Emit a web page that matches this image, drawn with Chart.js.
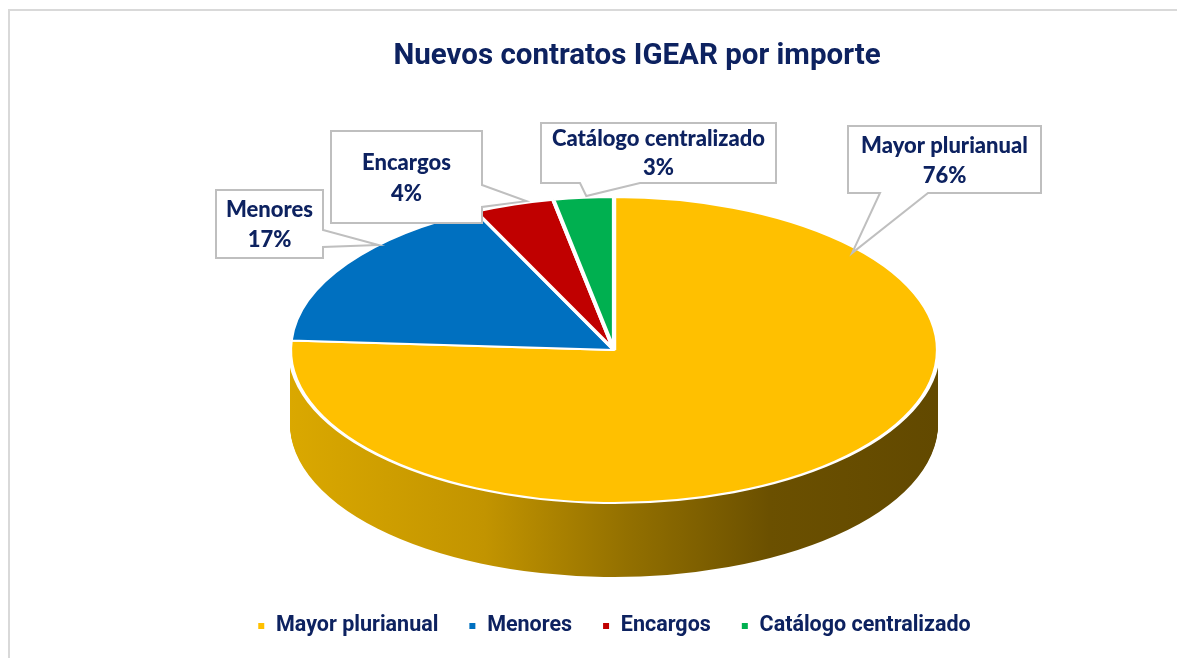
<!DOCTYPE html>
<html lang="es">
<head>
<meta charset="utf-8">
<title>Nuevos contratos IGEAR por importe</title>
<script src="https://cdn.jsdelivr.net/npm/chart.js@4.4.1/dist/chart.umd.min.js"></script>
<style>
  html, body { margin: 0; padding: 0; background: #fff; }
  canvas { display: block; }
</style>
</head>
<body>
<canvas id="pieChart" width="1177" height="658"></canvas>
<script>
const chartTitle = "Nuevos contratos IGEAR por importe";
const categories = ["Mayor plurianual", "Menores", "Encargos", "Catálogo centralizado"];
const shares = [76, 17, 4, 3];
const sliceColors = ["#FFC000", "#0070C0", "#C00000", "#00B050"];

const navy = "#0d2260";
const frameColor = "#D9D9D9";
const ellipseRx = 324;   // half width of the tilted pie on screen
const pieDepth = 74;     // thickness of the 3d side

// callout boxes, same order as categories: [x, y, w, h], tail side, tail base, where the tip lands in the slice
const callouts = [
  { box: [848, 126, 193, 67], side: "bottom", base: [32, 80], at: 0.18, reach: 0.97, lines: [20, 50] },
  { box: [216, 190, 107, 68], side: "right", base: [40, 57], at: 0.65, reach: 1.0, lines: [20, 50] },
  { box: [331, 131, 151, 92], side: "right", base: [54, 76], at: 0.67, reach: 1.01, lines: [32, 63] },
  { box: [541, 123, 235, 60], side: "bottom", base: [39, 99], at: 0.55, reach: 1.01, lines: [16, 45] }
];

const total = shares.reduce((a, b) => a + b, 0);
const pct = (v) => Math.round(v / total * 100) + "%";

const pieGeometry = (chart) => {
  const arcs = chart.getDatasetMeta(0).data;
  const { x, y, outerRadius } = arcs[0];
  return { arcs, x, y, r: outerRadius, sx: ellipseRx / outerRadius };
};

const frameAndTitle = {
  id: "frameAndTitle",
  beforeDraw(chart) {
    const ctx = chart.ctx;
    ctx.save();
    ctx.fillStyle = "#fff";
    ctx.fillRect(0, 0, chart.width, chart.height);
    ctx.strokeStyle = frameColor;
    ctx.lineWidth = 2;
    ctx.strokeRect(9, 10, chart.width + 20, chart.height + 20);
    ctx.restore();
  },
  afterDraw(chart) {
    const ctx = chart.ctx;
    ctx.save();
    ctx.fillStyle = navy;
    ctx.font = "bold 29.5px Roboto";
    ctx.textAlign = "center";
    ctx.textBaseline = "middle";
    ctx.fillText(chartTitle, 637, 57);
    ctx.restore();
  }
};

const pie3d = {
  id: "pie3d",
  beforeDatasetsDraw(chart) {
    const { arcs, x, y, r, sx } = pieGeometry(chart);
    const ctx = chart.ctx;
    ctx.save();
    ctx.translate(x, y);
    ctx.scale(sx, 1);
    ctx.translate(-x, -y);

    const side = ctx.createLinearGradient(x - r, 0, x + r, 0);
    side.addColorStop(0, "#DAA800");
    side.addColorStop(0.3, "#C29400");
    side.addColorStop(0.52, "#937000");
    side.addColorStop(0.74, "#6B5000");
    side.addColorStop(1, "#624900");

    arcs.forEach((arc) => {
      const opts = arc.options;
      arc.options = Object.assign({}, opts, { backgroundColor: side, borderWidth: 0 });
      for (let d = pieDepth; d > 0; d--) {
        ctx.save();
        ctx.translate(0, d);
        arc.draw(ctx);
        ctx.restore();
      }
      arc.options = opts;
    });
  },
  afterDatasetsDraw(chart) {
    chart.ctx.restore();
  }
};

const calloutLabels = {
  id: "calloutLabels",
  afterDraw(chart) {
    const { arcs, x, y, r, sx } = pieGeometry(chart);
    const ctx = chart.ctx;
    ctx.save();
    callouts.forEach((c, i) => {
      const arc = arcs[i];
      const a = arc.startAngle + c.at * (arc.endAngle - arc.startAngle);
      const tip = [x + Math.cos(a) * r * c.reach * sx, y + Math.sin(a) * r * c.reach];
      const [bx, by, bw, bh] = c.box;
      let pts;
      if (c.side === "bottom") {
        pts = [[bx, by], [bx + bw, by], [bx + bw, by + bh], [bx + c.base[1], by + bh], tip, [bx + c.base[0], by + bh], [bx, by + bh]];
      } else {
        pts = [[bx, by], [bx + bw, by], [bx + bw, by + c.base[0]], tip, [bx + bw, by + c.base[1]], [bx + bw, by + bh], [bx, by + bh]];
      }
      ctx.beginPath();
      pts.forEach((p, k) => (k ? ctx.lineTo(p[0], p[1]) : ctx.moveTo(p[0], p[1])));
      ctx.closePath();
      ctx.fillStyle = "#fff";
      ctx.fill();
      ctx.strokeStyle = "#BFBFBF";
      ctx.lineWidth = 2;
      ctx.stroke();

      ctx.fillStyle = navy;
      ctx.font = "900 22px Lato";
      ctx.textAlign = "center";
      ctx.textBaseline = "middle";
      ctx.fillText(categories[i], bx + bw / 2, by + c.lines[0]);
      ctx.fillText(pct(shares[i]), bx + bw / 2, by + c.lines[1]);
    });
    ctx.restore();
  }
};

Chart.defaults.font.family = "Roboto";

new Chart(document.getElementById("pieChart"), {
  type: "pie",
  data: {
    labels: categories,
    datasets: [{
      data: shares,
      backgroundColor: sliceColors,
      borderColor: "#ffffff",
      borderWidth: 2,
      radius: 153,
      clip: false
    }]
  },
  options: {
    responsive: false,
    animation: false,
    devicePixelRatio: 1,
    radius: 153,
    layout: {
      padding: { top: 114.75, bottom: 11.25, left: 56, right: 5 }
    },
    plugins: {
      title: { display: false },
      tooltip: { enabled: false },
      legend: {
        position: "bottom",
        labels: {
          color: navy,
          font: { family: "Roboto", size: 21.5, weight: "bold" },
          boxWidth: 8,
          boxHeight: 8,
          padding: 30
        }
      }
    }
  },
  plugins: [frameAndTitle, pie3d, calloutLabels]
});
</script>
</body>
</html>
